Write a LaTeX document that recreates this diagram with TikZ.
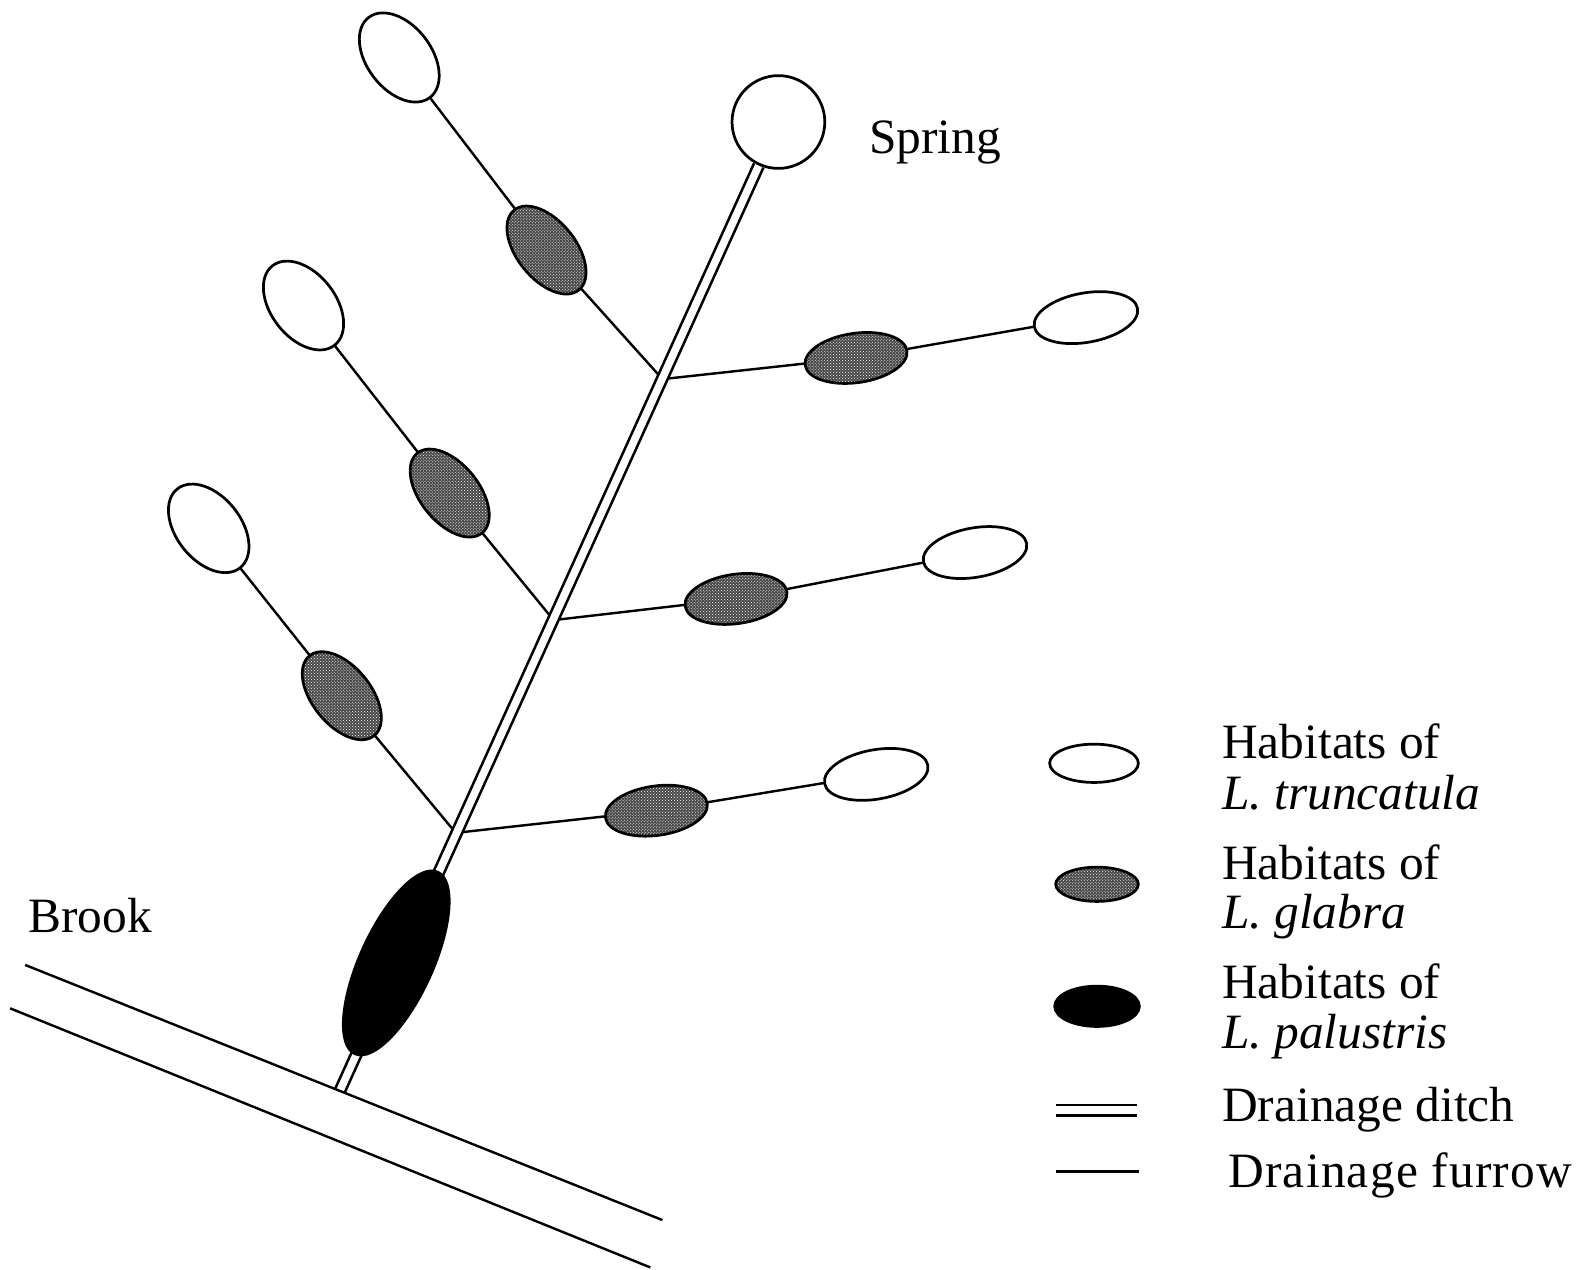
\documentclass[tikz,border=0pt]{standalone}
\usepackage{fontspec}
\setmainfont{Liberation Serif}
\usetikzlibrary{shapes.geometric,patterns,backgrounds}
\begin{document}
\begin{tikzpicture}[x=1pt,y=-1pt,
  hab/.style={ellipse, draw, line width=2.7pt, inner sep=0pt, outer sep=0pt},
  trunc/.style={hab, fill=white},
  glab/.style={hab, preaction={fill=black!72}, pattern=crosshatch dots, pattern color=white},
  palu/.style={hab, fill=black},
  furrow/.style={line width=2.4pt},
  ditch/.style={line width=2.6pt, double=white, double distance=7.5pt},
  lbl/.style={font=\fontsize{49}{55}\selectfont, anchor=base west, inner sep=0pt},
]
\useasboundingbox (0,0) rectangle (1568,1259);

% spring and labels
\node[circle, draw, fill=white, line width=2.7pt, minimum size=92pt, inner sep=0pt] (spring) at (772,121) {};
\node[lbl] (springlbl) at (862,152) {Spring};
\node[lbl] (brooklbl) at (28,925) {Brook};

% habitats, group A
\node[trunc, minimum width=100pt, minimum height=64pt, rotate=-52.6] (a1) at (396,57) {};
\node[glab, minimum width=102pt, minimum height=58pt, rotate=-51] (a2) at (542,248) {};
\node[glab, minimum width=102pt, minimum height=49pt, rotate=8] (a3) at (849,355) {};
\node[trunc, minimum width=104pt, minimum height=49pt, rotate=10] (a4) at (1077,315) {};
% group B
\node[trunc, minimum width=100pt, minimum height=64pt, rotate=-52] (b1) at (301,303) {};
\node[glab, minimum width=102pt, minimum height=58pt, rotate=-51] (b2) at (446,489) {};
\node[glab, minimum width=102pt, minimum height=49pt, rotate=8] (b3) at (730,594) {};
\node[trunc, minimum width=104pt, minimum height=49pt, rotate=10] (b4) at (967,548) {};
% group C
\node[trunc, minimum width=100pt, minimum height=64pt, rotate=-51.5] (c1) at (207,524) {};
\node[glab, minimum width=102pt, minimum height=58pt, rotate=-51] (c2) at (339,690) {};
\node[glab, minimum width=102pt, minimum height=49pt, rotate=8] (c3) at (651,804) {};
\node[trunc, minimum width=104pt, minimum height=49pt, rotate=10] (c4) at (869,768) {};
% palustris
\node[palu, minimum width=198pt, minimum height=72pt, rotate=65.5] (d) at (393,955) {};

% ditch points
\coordinate (dbot) at (337,1082);
\coordinate (j1) at (657,376);
\coordinate (j2) at (549,615);
\coordinate (j3) at (452,826);
% brook
\coordinate (bu1) at (25,957);
\coordinate (bu2) at (657,1210);
\coordinate (bl1) at (10,1000);
\coordinate (bl2) at (645,1257);

\begin{scope}[on background layer]
\draw[furrow] (a1) -- (a2);
\draw[furrow] (a2) -- (j1);
\draw[furrow] (j1) -- (a3);
\draw[furrow] (a3) -- (a4);
\draw[furrow] (b1) -- (b2);
\draw[furrow] (b2) -- (j2);
\draw[furrow] (j2) -- (b3);
\draw[furrow] (b3) -- (b4);
\draw[furrow] (c1) -- (c2);
\draw[furrow] (c2) -- (j3);
\draw[furrow] (j3) -- (c3);
\draw[furrow] (c3) -- (c4);
\draw[ditch] (spring) -- (dbot);
\draw[furrow] (bu1) -- (bu2);
\draw[furrow] (bl1) -- (bl2);
\end{scope}

% legend
\node[trunc, minimum width=88pt, minimum height=38pt] (l1) at (1085,757) {};
\node[glab, minimum width=82pt, minimum height=34pt] (l2) at (1088,877) {};
\node[palu, minimum width=84pt, minimum height=40pt] (l3) at (1088,998) {};
\coordinate (l4a) at (1047,1101);
\coordinate (l4b) at (1128,1101);
\draw[ditch] (l4a) -- (l4b);
\coordinate (l5a) at (1047,1162);
\coordinate (l5b) at (1130,1162);
\draw[furrow] (l5a) -- (l5b);

\node[lbl] (t1) at (1212,752) {Habitats of};
\node[lbl] (t1b) at (1212,803) {\textit{L. truncatula}};
\node[lbl] (t2) at (1212,872) {Habitats of};
\node[lbl] (t2b) at (1212,921) {\textit{L. glabra}};
\node[lbl] (t3) at (1212,990) {Habitats of};
\node[lbl] (t3b) at (1212,1040) {\textit{L. palustris}};
\node[lbl] (t4) at (1212,1112) {Drainage ditch};
\node[lbl] (t5) at (1218,1178) {\addfontfeature{LetterSpace=2.5}Drainage furrow};
\end{tikzpicture}
\end{document}
